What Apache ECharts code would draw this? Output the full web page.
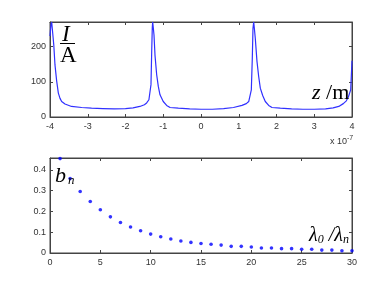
<!DOCTYPE html>
<html>
<head>
<meta charset="utf-8">
<script src="https://cdn.jsdelivr.net/npm/echarts@6/dist/echarts.min.js"></script>
<style>
html,body{margin:0;padding:0;background:#fff;}
#c{width:390px;height:290px;}
</style>
</head>
<body>
<div id="c"></div>
<script>
// Top plot: I(z), z in units of 1e-7 m
const zVals = [-4.0,-3.975,-3.955,-3.93,-3.90,-3.868,-3.823,-3.779,-3.735,-3.691,-3.603,-3.43,-3.16,-2.9,-2.6,-2.3,-2.0,-1.8,-1.62,-1.50,-1.44,-1.38,-1.351,-1.325,-1.306,-1.29,-1.28,-1.265,-1.245,-1.219,-1.174,-1.131,-1.086,-1.0,-0.91,-0.82,-0.6,-0.3,0,0.3,0.6,0.86,1.086,1.2,1.264,1.333,1.359,1.377,1.396,1.415,1.438,1.483,1.528,1.571,1.634,1.703,1.793,1.881,2.1,2.4,2.7,3.0,3.3,3.5,3.65,3.77,3.85,3.903,3.965,4.0];
const iVals = [230,262,270,240,205,148,102,68,53,44,37,30,27,25,24,23,24,26,30,35,40,49,54,92,186,255,270,255,233,176,120,87,63,44,33,27,25,23,22,22,24,27,33,38,44,77,167,252,270,250,224,158,115,82,61,44,33,27,25,23,22,22,23,26,30,38,46,57,77,160];
const topXTicks = [-4,-3,-2,-1,0,1,2,3,4];
const topYTicks = [0,100,200];

// Bottom plot: b_n vs lambda0/lambda_n
const nVals = [1,2,3,4,5,6,7,8,9,10,11,12,13,14,15,16,17,18,19,20,21,22,23,24,25,26,27,28,29,30];
const bVals = [0.454,0.358,0.296,0.248,0.208,0.174,0.147,0.125,0.107,0.091,0.078,0.067,0.058,0.051,0.046,0.042,0.038,0.032,0.032,0.029,0.024,0.024,0.021,0.021,0.018,0.018,0.014,0.014,0.011,0.011];
const botXTicks = [0,5,10,15,20,25,30];
const botYTicks = [0,0.1,0.2,0.3,0.4];

const frame = '#444';
const labelStyle = {fontFamily:'Liberation Sans, Arial', fontSize:9, color:'#333'};
function axisBase(extra){
  return Object.assign({
    axisLine:{show:true,onZero:false,lineStyle:{color:frame,width:1}},
    axisTick:{show:true,inside:true,length:3,lineStyle:{color:frame}},
    splitLine:{show:false}
  }, extra);
}

const chart = echarts.init(document.getElementById('c'), null, {renderer:'canvas'});
const topPairs = zVals.map((z,i)=>[z,iVals[i]]);
const botPairs = nVals.map((n,i)=>[n,bVals[i]]);

chart.setOption({
  animation:false,
  backgroundColor:'#fff',
  grid:[
    {left:50,right:38,top:22,height:95,show:true,borderColor:frame,borderWidth:1,backgroundColor:'#fff'},
    {left:50,right:38,top:158,height:95,show:true,borderColor:frame,borderWidth:1,backgroundColor:'#fff'}
  ],
  xAxis:[
    axisBase({gridIndex:0,type:'value',position:'bottom',min:topXTicks[0],max:topXTicks[topXTicks.length-1],interval:1,
      axisLabel:Object.assign({margin:5},labelStyle)}),
    axisBase({gridIndex:0,type:'value',position:'top',min:topXTicks[0],max:topXTicks[topXTicks.length-1],interval:1,axisLabel:{show:false}}),
    axisBase({gridIndex:1,type:'value',position:'bottom',min:botXTicks[0],max:botXTicks[botXTicks.length-1],interval:5,
      axisLabel:Object.assign({margin:5},labelStyle)}),
    axisBase({gridIndex:1,type:'value',position:'top',min:botXTicks[0],max:botXTicks[botXTicks.length-1],interval:5,axisLabel:{show:false}})
  ],
  yAxis:[
    axisBase({gridIndex:0,type:'value',position:'left',min:topYTicks[0],max:270,interval:100,
      axisLabel:Object.assign({margin:4,showMaxLabel:false},labelStyle)}),
    axisBase({gridIndex:0,type:'value',position:'right',min:topYTicks[0],max:270,interval:100,axisLabel:{show:false}}),
    axisBase({gridIndex:1,type:'value',position:'left',min:botYTicks[0],max:0.457,interval:0.1,
      axisLabel:Object.assign({margin:4,showMaxLabel:false},labelStyle)}),
    axisBase({gridIndex:1,type:'value',position:'right',min:botYTicks[0],max:0.457,interval:0.1,axisLabel:{show:false}})
  ],
  series:[
    {type:'line',xAxisIndex:0,yAxisIndex:0,data:topPairs,showSymbol:false,symbol:'none',clip:true,
      lineStyle:{color:'#3030ff',width:1.2},z:3},
    {type:'scatter',xAxisIndex:2,yAxisIndex:2,data:botPairs,symbol:'circle',symbolSize:3.6,
      itemStyle:{color:'#0000ff'},clip:false,z:3}
  ],
  graphic:[
    {type:'text',left:330,top:135,style:{text:'x 10{s|-7}',rich:{s:{fontSize:7,verticalAlign:'top',padding:[0,0,6,0],fontFamily:'Liberation Sans, Arial',fill:'#333'}},fontFamily:'Liberation Sans, Arial',fontSize:9,fill:'#333'},z:10},
    {type:'text',left:62,top:23,style:{text:'I',fontFamily:'Liberation Serif',fontStyle:'italic',fontSize:23,fill:'#000'},z:10},
    {type:'line',shape:{x1:60,y1:43.5,x2:75,y2:43.5},style:{stroke:'#000',lineWidth:1},z:10},
    {type:'text',left:60,top:44,style:{text:'A',fontFamily:'Liberation Serif',fontSize:23,fill:'#000'},z:10},
    {type:'text',left:312,top:82,style:{text:'{i|z} /m',rich:{i:{fontStyle:'italic',fontFamily:'Liberation Serif',fontSize:22}},fontFamily:'Liberation Serif',fontSize:22,fill:'#000'},z:10},
    {type:'text',left:55,top:165,style:{text:'{b|b}{n|n}',rich:{b:{fontStyle:'italic',fontFamily:'Liberation Serif',fontSize:22},n:{fontStyle:'italic',fontFamily:'Liberation Serif',fontSize:13,verticalAlign:'bottom',padding:[10,0,0,2]}},fill:'#000'},z:10},
    {type:'text',left:309,top:226,style:{text:'{l|λ}{s|0}{l| /}{l|λ}{s|n}',rich:{l:{fontStyle:'italic',fontFamily:'Liberation Serif',fontSize:20},s:{fontFamily:'Liberation Serif',fontStyle:'italic',fontSize:12,verticalAlign:'bottom',padding:[8,0,0,0]}},fill:'#000'},z:10}
  ]
});
</script>
</body>
</html>
